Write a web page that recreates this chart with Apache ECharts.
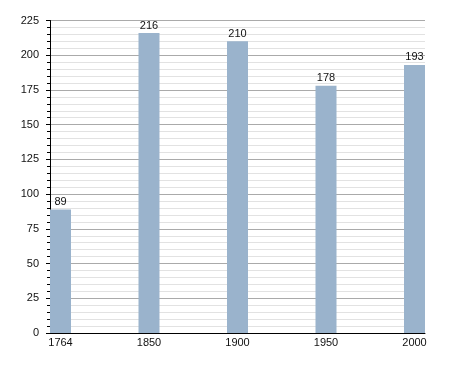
<!DOCTYPE html>
<html><head><meta charset="utf-8">
<script src="https://cdn.jsdelivr.net/npm/echarts@6/dist/echarts.min.js"></script>
<style>html,body{margin:0;padding:0;background:#fff}#c{width:455px;height:373px}</style>
</head><body><div id="c"></div>
<script>
const categories = ['1764', '1850', '1900', '1950', '2000'];
const values = [89, 216, 210, 178, 193];
const yTicks = [0, 25, 50, 75, 100, 125, 150, 175, 200, 225];

const chart = echarts.init(document.getElementById('c'), null, {renderer: 'canvas'});
const font = 'Liberation Sans, Arial, sans-serif';
chart.setOption({
  animation: false,
  backgroundColor: '#fff',
  grid: {left: 50, right: 30, top: 20.5, bottom: 40},
  xAxis: {
    type: 'value', min: -0.1186, max: 4.1186,
    splitLine: {show: false},
    axisLine: {show: true, onZero: false, lineStyle: {color: '#000', width: 1}},
    axisTick: {show: false},
    axisLabel: {
      show: true, customValues: [0, 1, 2, 3, 4], margin: 4,
      fontFamily: font, fontSize: 11, color: '#111',
      formatter: v => categories[Math.round(v)]
    }
  },
  yAxis: {
    type: 'value', min: yTicks[0], max: yTicks[yTicks.length - 1], interval: 25,
    axisLine: {show: true, onZero: false, lineStyle: {color: '#000', width: 1}},
    axisTick: {show: true, length: 4, lineStyle: {color: '#000'}},
    minorTick: {show: true, splitNumber: 5, length: 3, lineStyle: {color: '#000'}},
    splitLine: {show: true, lineStyle: {color: '#aaaaaa', width: 1}},
    minorSplitLine: {show: true, lineStyle: {color: '#e2e2e2', width: 1}},
    axisLabel: {margin: 11, fontFamily: font, fontSize: 11, color: '#111'}
  },
  series: [{
    type: 'bar',
    data: values.map((v, i) => [i, v]),
    barWidth: 21,
    itemStyle: {color: '#9ab3cc'},
    label: {show: true, position: 'top', distance: 2, fontFamily: font, fontSize: 11, color: '#111'}
  }]
});
</script></body></html>
